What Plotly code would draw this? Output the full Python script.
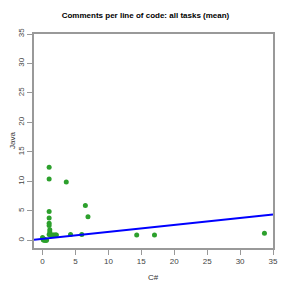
import plotly.graph_objects as go

csharp = [1.0, 1.0, 3.6, 6.5, 6.9, 1.0, 1.0, 1.0, 1.0, 1.1, 1.1, 1.0, 1.2, 1.4, 1.6, 1.8, 2.0, 2.1,
          4.25, 5.96, 14.3, 17.0, 33.7, 0.0, 0.2, 0.4, 0.5, 0.6, 0.1, 0.3]
java = [12.4, 10.4, 9.9, 5.9, 4.0, 4.9, 3.8, 2.9, 2.5, 1.8, 1.4, 1.0, 0.9, 0.9, 0.9, 0.9, 0.9, 0.9,
        1.0, 1.0, 0.9, 0.9, 1.2, 0.5, 0.0, 0.0, 0.0, 0.0, 0.1, 0.2]
fit_intercept = 0.25
fit_slope = 0.118
x_range = [-1.3, 35]
y_range = [-1.3, 35]
ticks = [0, 5, 10, 15, 20, 25, 30, 35]

FONT = "Liberation Sans, Arial"
L, R, T, B = 34, 18, 34, 43
PW, PH = 291 - L - R, 291 - T - B

fig = go.Figure()
fig.add_trace(go.Scatter(x=csharp, y=java, mode="markers",
                         marker=dict(color="#2ca02c", size=5), showlegend=False))
fig.add_trace(go.Scatter(x=x_range, y=[fit_intercept + fit_slope * v for v in x_range],
                         mode="lines", line=dict(color="#0000ff", width=2), showlegend=False))

axis_common = dict(showgrid=False, zeroline=False, showline=True, mirror=True, automargin=False,
                   linecolor="#999999", linewidth=1.5, ticks="outside", ticklen=5,
                   tickcolor="#999999", tickvals=ticks,
                   tickfont=dict(family=FONT, size=8, color="#444444"))

fig.update_layout(
    width=291, height=291,
    margin=dict(l=L, r=R, t=T, b=B, autoexpand=False),
    plot_bgcolor="white", paper_bgcolor="white",
    title=dict(text="<b>Comments per line of code: all tasks (mean)</b>", x=0.5, xanchor="center",
               y=1 - 15 / 291, yanchor="middle",
               font=dict(family=FONT, size=8, color="#000000")),
    xaxis=dict(range=x_range, **axis_common),
    yaxis=dict(range=y_range, tickangle=-90, **axis_common),
    annotations=[
        dict(text="C#", x=0.5, xref="paper", y=-(277 - (T + PH)) / PH, yref="paper", yanchor="middle",
             showarrow=False, font=dict(family=FONT, size=8, color="#333333")),
        dict(text="Java", x=(12 - L) / PW, xref="paper", xanchor="center", y=0.5, yref="paper",
             textangle=-90, showarrow=False, font=dict(family=FONT, size=8, color="#333333")),
    ],
)

fig.write_html("out.html", config={"displayModeBar": False},
               post_script="document.body.style.margin='0px';")
